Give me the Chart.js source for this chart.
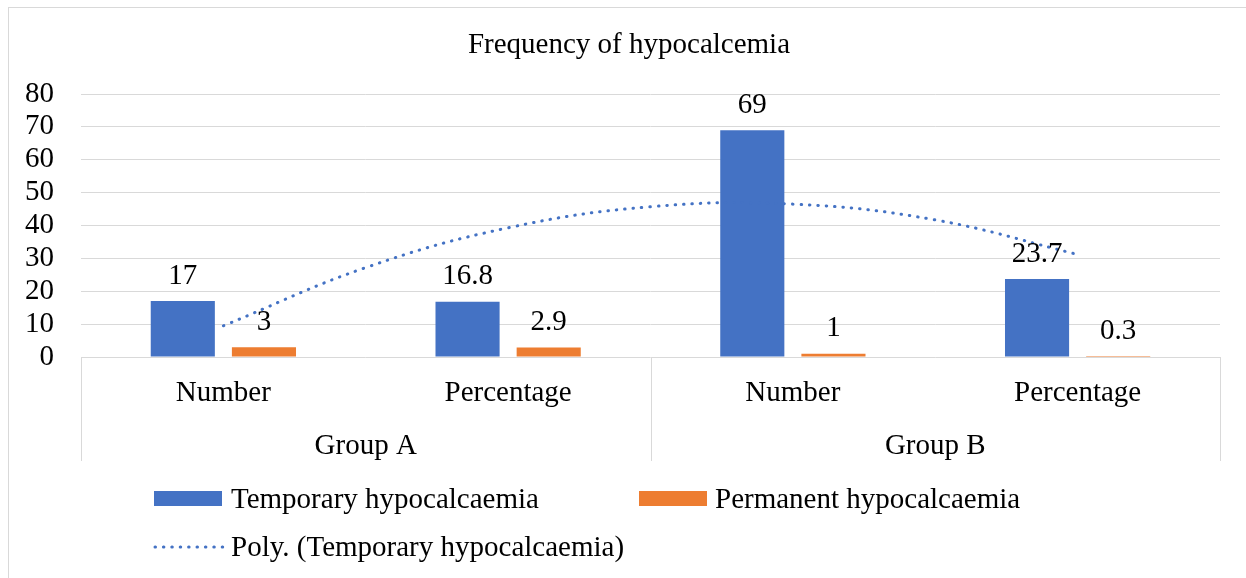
<!DOCTYPE html>
<html>
<head>
<meta charset="utf-8">
<script src="https://cdn.jsdelivr.net/npm/chart.js@4.4.1/dist/chart.umd.min.js"></script>
<style>
html,body{margin:0;padding:0;background:#fff;}
</style>
</head>
<body>
<canvas id="myChart" width="1246" height="578"></canvas>
<script>
var categories = ['Number', 'Percentage', 'Number', 'Percentage']
var groups = ['Group A', 'Group B']
var temporary = [17, 16.8, 69, 23.7]
var permanent = [3, 2.9, 1, 0.3]
// poly trendline at half-category steps (0 = first category)
var trendX = [0, 0.5, 1, 1.5, 2, 2.5, 3]
var trendY = [9.5, 27.2, 39.3, 45.7, 46.5, 41.7, 31.2]
var yMax = 80
var yStep = 10

var FONT = '"Liberation Serif", "Times New Roman", serif'
var BLUE = '#4472C4'
var ORANGE = '#ED7D31'
var GRID = '#d9d9d9'

Chart.defaults.font.family = FONT
Chart.defaults.font.size = 29
Chart.defaults.color = '#000'

var decor = {
  id: 'decor',
  beforeDraw: function (c) {
    var ctx = c.ctx
    ctx.save()
    ctx.strokeStyle = GRID
    ctx.lineWidth = 1
    ctx.strokeRect(8.5, 7.5, 1300, 620)
    ctx.restore()
  },
  afterDraw: function (c) {
    var ctx = c.ctx
    var area = c.chartArea
    var xs = c.scales.x
    var xg = c.scales.xg
    ctx.save()

    // group separators under the axis
    ctx.strokeStyle = GRID
    ctx.lineWidth = 1
    var mid = (xs.getPixelForValue(1) + xs.getPixelForValue(2)) / 2
    ;[area.left, mid, area.right].forEach(function (px) {
      px = Math.round(px) + 0.5
      ctx.beginPath()
      ctx.moveTo(px, area.bottom)
      ctx.lineTo(px, xg.bottom)
      ctx.stroke()
    })

    // data labels
    ctx.fillStyle = '#000'
    ctx.font = '29px ' + FONT
    ctx.textAlign = 'center'
    ctx.textBaseline = 'alphabetic'
    ;[0, 1].forEach(function (di) {
      var meta = c.getDatasetMeta(di)
      var vals = c.data.datasets[di].data
      meta.data.forEach(function (bar, i) {
        ctx.fillText(String(vals[i]), bar.x, bar.y - 17.5)
      })
    })

    // title
    ctx.fillText('Frequency of hypocalcemia', 629, 53)

    // legend
    ctx.textAlign = 'left'
    ctx.fillStyle = BLUE
    ctx.fillRect(154, 491, 68, 15)
    ctx.fillStyle = ORANGE
    ctx.fillRect(639, 491, 68, 15)
    ctx.strokeStyle = BLUE
    ctx.lineWidth = 3
    ctx.lineCap = 'round'
    ctx.setLineDash([0.5, 7.9])
    ctx.beginPath()
    ctx.moveTo(155, 547)
    ctx.lineTo(223, 547)
    ctx.stroke()
    ctx.setLineDash([])
    ctx.fillStyle = '#000'
    ctx.fillText(c.data.datasets[0].label, 231, 508)
    ctx.fillText(c.data.datasets[1].label, 715, 508)
    ctx.fillText(c.data.datasets[2].label, 231, 556)
    ctx.restore()
  }
}

var chart = new Chart('myChart', {
  type: 'bar',
  data: {
    labels: categories,
    datasets: [{
      label: 'Temporary hypocalcaemia',
      data: temporary,
      backgroundColor: BLUE,
      categoryPercentage: 0.57,
      barPercentage: 0.79,
      xAxisID: 'x',
      order: 2
    }, {
      label: 'Permanent hypocalcaemia',
      data: permanent,
      backgroundColor: ORANGE,
      categoryPercentage: 0.57,
      barPercentage: 0.79,
      xAxisID: 'x',
      order: 2
    }, {
      type: 'line',
      label: 'Poly. (Temporary hypocalcaemia)',
      parsing: false,
      data: trendX.map(function (x, i) { return { x: x, y: trendY[i] } }),
      xAxisID: 'x',
      borderColor: BLUE,
      borderWidth: 3,
      borderDash: [0.5, 7.9],
      borderCapStyle: 'round',
      pointRadius: 0,
      tension: 0.4,
      fill: false,
      order: 1
    }]
  },
  options: {
    responsive: false,
    animation: false,
    layout: { padding: { left: 25, right: 26, top: 94, bottom: 117 } },
    plugins: {
      legend: { display: false },
      title: { display: false },
      tooltip: { enabled: false }
    },
    scales: {
      x: {
        type: 'category',
        position: 'bottom',
        weight: 1,
        grid: { display: false, drawTicks: false },
        border: { display: false },
        ticks: { padding: 19 },
        afterFit: function (s) { s.height = 53; s.paddingLeft = 0; s.paddingRight = 0 }
      },
      xg: {
        type: 'category',
        labels: groups,
        offset: true,
        position: 'bottom',
        weight: 2,
        grid: { display: false, drawTicks: false },
        border: { display: false },
        ticks: { padding: 19 },
        afterFit: function (s) { s.height = 51; s.paddingLeft = 0; s.paddingRight = 0 }
      },
      y: {
        min: 0,
        max: yMax,
        ticks: { stepSize: yStep, padding: 27, autoSkip: false },
        grid: { color: GRID, drawTicks: false },
        border: { display: false },
        afterFit: function (s) { s.width = 56 }
      }
    }
  },
  plugins: [decor]
})
</script>
</body>
</html>
